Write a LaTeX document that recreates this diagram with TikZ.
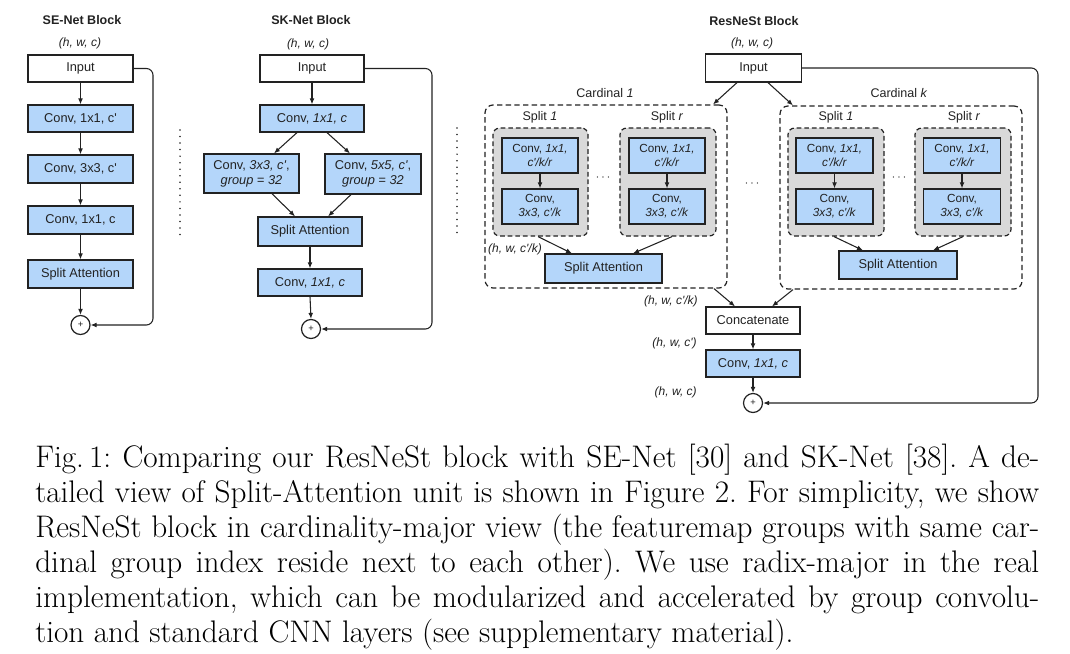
\documentclass[tikz,border=0pt]{standalone}
\usepackage{fontspec}
\newfontfamily\df{Liberation Sans}
\usetikzlibrary{arrows.meta,calc}
\definecolor{bblue}{HTML}{B4D6FA}
\definecolor{ggray}{HTML}{D9D9D9}
\definecolor{ink}{HTML}{222222}
\begin{document}
\begin{tikzpicture}[x=0.75pt,y=-0.75pt,
 every node/.style={inner sep=0pt, text=ink},
 wh/.style 2 args={minimum width=#1*0.75pt, minimum height=#2*0.75pt},
 bx/.style={draw=ink, line width=0.9pt, align=center, font=\df\fontsize{9.6}{11.2}\selectfont},
 bluebox/.style={bx, fill=bblue},
 whitebox/.style={bx, fill=white},
 innerbox/.style={bluebox, font=\df\fontsize{8.8}{10.6}\selectfont},
 grp/.style={draw=ink, fill=ggray, rounded corners=5pt, line width=0.9pt, dash pattern=on 3.5pt off 2.2pt},
 cardbox/.style={draw=ink, rounded corners=6pt, line width=0.9pt, dash pattern=on 4pt off 2.5pt},
 ttl/.style={font=\df\bfseries\fontsize{9.4}{11}\selectfont},
 dimlbl/.style={font=\df\itshape\fontsize{9}{11}\selectfont},
 lbl/.style={font=\df\fontsize{9.4}{11}\selectfont},
 plusnode/.style={circle, draw=ink, line width=0.9pt, fill=white, minimum size=19*0.75pt, font=\df\fontsize{7}{8}\selectfont},
 arr/.style={draw=ink, line width=0.8pt, -{Latex[length=4.5pt,width=3.6pt]}},
 skiparr/.style={arr, rounded corners=5pt},
 dotline/.style={draw=ink, line width=1.3pt, line cap=round, dash pattern=on 0pt off 4.9pt},
]
\useasboundingbox (0,0) rectangle (1070,653);

% ---------------- SE-Net ----------------
\node[ttl] (seT) at (82,20) {SE-Net Block};
\node[dimlbl] (seD) at (80,43) {(h, w, c)};
\node[whitebox, wh={105}{27}] (seIn) at (80.5,68.5) {Input};
\node[bluebox, wh={105}{27}] (se1) at (80.5,118.5) {Conv, 1x1, c\textquotesingle};
\node[bluebox, wh={105}{28}] (se2) at (80.5,169) {Conv, 3x3, c\textquotesingle};
\node[bluebox, wh={105}{28}] (se3) at (80.5,220) {Conv, 1x1, c};
\node[bluebox, wh={105}{28}] (se4) at (80.5,274) {Split Attention};
\node[plusnode] (seP) at (80.5,325) {+};
\coordinate (seR) at (153,325);
\draw[arr] (seIn) -- (se1);
\draw[arr] (se1) -- (se2);
\draw[arr] (se2) -- (se3);
\draw[arr] (se3) -- (se4);
\draw[arr] (se4) -- (seP);
\draw[skiparr] (seIn.east) -| (seR) -- (seP.east);

\draw[dotline] (180,130) -- (180,237);

% ---------------- SK-Net ----------------
\node[ttl] (skT) at (311,20) {SK-Net Block};
\node[dimlbl] (skD) at (308,44) {(h, w, c)};
\node[whitebox, wh={104}{27}] (skIn) at (312,68.5) {Input};
\node[bluebox, wh={104}{27}] (sk1) at (312,118.5) {Conv, \textit{1x1, c}};
\node[bluebox, wh={95}{39}] (skL) at (251.5,173.5) {Conv, \textit{3x3, c\textquotesingle},\\\textit{group = 32}};
\node[bluebox, wh={96}{40}] (skR) at (373,174) {Conv, \textit{5x5, c\textquotesingle},\\\textit{group = 32}};
\node[bluebox, wh={104}{29}] (skSA) at (310,231.5) {Split Attention};
\node[bluebox, wh={104}{27}] (sk2) at (310,282.5) {Conv, \textit{1x1, c}};
\node[plusnode] (skP) at (311,329) {+};
\coordinate (skRt) at (432,329);
\draw[arr] (skIn) -- (sk1);
\draw[arr] ($(sk1.south)+(-15,0)$) -- ($(skL.north)+(22.5,0)$);
\draw[arr] ($(sk1.south)+(15,0)$) -- ($(skR.north)+(-23,0)$);
\draw[arr] ($(skL.south)+(20.5,0)$) -- ($(skSA.north)+(-15,0)$);
\draw[arr] ($(skR.south)+(-22,0)$) -- ($(skSA.north)+(18,0)$);
\draw[arr] (skSA) -- (sk2);
\draw[arr] (sk2.south) -- (skP.north);
\draw[skiparr] (skIn.east) -| (skRt) -- (skP.east);

\draw[dotline] (457,128) -- (457,237);

% ---------------- ResNeSt ----------------
\node[ttl] (rsT) at (754,21) {ResNeSt Block};
\node[dimlbl] (rsD) at (752,43) {(h, w, c)};
\node[whitebox, wh={96}{28}] (rsIn) at (753.5,68) {Input};

% cardinal 1
\node[cardbox, wh={242}{183}] (card1) at (606,196.5) {};
\node[lbl] (card1L) at (605,93) {Cardinal \textit{1}};
\node[lbl] (s11L) at (540,117) {Split \textit{1}};
\node[lbl] (s1rL) at (667,117) {Split \textit{r}};
\node[grp, wh={95}{108}] (g11) at (540.5,182) {};
\node[grp, wh={96}{108}] (g1r) at (668,182) {};
\node[innerbox, wh={76}{35}] (c11a) at (540,155.5) {Conv, \textit{1x1,}\\\textit{c\textquotesingle/k/r}};
\node[innerbox, wh={76}{35}] (c11b) at (540,206.5) {Conv,\\\textit{3x3, c\textquotesingle/k}};
\node[innerbox, wh={76}{35}] (c1ra) at (667,155.5) {Conv, \textit{1x1,}\\\textit{c\textquotesingle/k/r}};
\node[innerbox, wh={76}{35}] (c1rb) at (667,206.5) {Conv,\\\textit{3x3, c\textquotesingle/k}};
\node[lbl] (dots1) at (603,178) {$\cdots$};
\node[bluebox, wh={117}{29}] (sa1) at (603.5,268.5) {Split Attention};
\node[dimlbl] (d1) at (515,249) {(h, w, c\textquotesingle/k)};
\draw[arr] (c11a) -- (c11b);
\draw[arr] (c1ra) -- (c1rb);
\draw[arr] ($(g11.south)+(-2.5,0)$) -- ($(sa1.north)+(-31.5,0)$);
\draw[arr] ($(g1r.south)+(4,0)$) -- ($(sa1.north)+(29.5,0)$);

\node[lbl] (dotsc) at (752,184) {$\cdots$};

% cardinal k
\node[cardbox, wh={242}{183}] (cardk) at (901,197.5) {};
\node[lbl] (cardkL) at (899,93) {Cardinal \textit{k}};
\node[lbl] (sk1L) at (836,117) {Split \textit{1}};
\node[lbl] (skrL) at (964,117) {Split \textit{r}};
\node[grp, wh={96}{108}] (gk1) at (836,182) {};
\node[grp, wh={96}{108}] (gkr) at (963,182) {};
\node[innerbox, wh={77}{35}] (ck1a) at (834.5,155.5) {Conv, \textit{1x1,}\\\textit{c\textquotesingle/k/r}};
\node[innerbox, wh={77}{35}] (ck1b) at (834.5,206.5) {Conv,\\\textit{3x3, c\textquotesingle/k}};
\node[innerbox, wh={77}{35}] (ckra) at (962,155.5) {Conv, \textit{1x1,}\\\textit{c\textquotesingle/k/r}};
\node[innerbox, wh={77}{35}] (ckrb) at (962,206.5) {Conv,\\\textit{3x3, c\textquotesingle/k}};
\node[lbl] (dotsk) at (899,178) {$\cdots$};
\node[bluebox, wh={118}{28}] (sak) at (898,265) {Split Attention};
\draw[arr] (ck1a) -- (ck1b);
\draw[arr] (ckra) -- (ckrb);
\draw[arr] ($(gk1.south)+(-2,0)$) -- ($(sak.north)+(-35,0)$);
\draw[arr] ($(gkr.south)+(0,0)$) -- ($(sak.north)+(35,0)$);

\draw[arr] ($(rsIn.south)+(-16.5,0)$) -- ($(card1.north)+(107,0)$);
\draw[arr] ($(rsIn.south)+(14.5,0)$) -- ($(cardk.north)+(-108,0)$);

% bottom
\node[whitebox, wh={94}{27}] (cat) at (753,320.5) {Concatenate};
\node[bluebox, wh={94}{27}] (rs2) at (753,363.5) {Conv, \textit{1x1, c}};
\node[plusnode] (rsP) at (753,403) {+};
\node[dimlbl, anchor=east] (d2) at (698,301) {(h, w, c\textquotesingle/k)};
\node[dimlbl, anchor=east] (d3) at (697,343) {(h, w, c\textquotesingle)};
\node[dimlbl, anchor=east] (d4) at (697,392) {(h, w, c)};
\draw[arr] ($(card1.south)+(108,0)$) -- ($(cat.north)+(-18,0)$);
\draw[arr] ($(cardk.south)+(-108,0)$) -- ($(cat.north)+(19,0)$);
\draw[arr] (cat) -- (rs2);
\draw[arr] (rs2.south) -- (rsP.north);
\coordinate (rsRt) at (1038,403);
\draw[skiparr] (rsIn.east) -| (rsRt) -- (rsP.east);

% caption
\node[anchor=base west, text=black] (cap) at (35,467) {\parbox[t]{753pt}{\fontsize{23.4}{26.25}\selectfont\frenchspacing
\hbox to\hsize{Fig.\,1: Comparing our ResNeSt block with SE-Net [30] and SK-Net [38]. A de-}
\hbox to\hsize{tailed view of Split-Attention unit is shown in Figure 2. For simplicity, we show}
\hbox to\hsize{ResNeSt block in cardinality-major view (the featuremap groups with same car-}
\hbox to\hsize{dinal group index reside next to each other). We use radix-major in the real}
\hbox to\hsize{implementation, which can be modularized and accelerated by group convolu-}
\hbox{tion and standard CNN layers (see supplementary material).}}};
\end{tikzpicture}
\end{document}
